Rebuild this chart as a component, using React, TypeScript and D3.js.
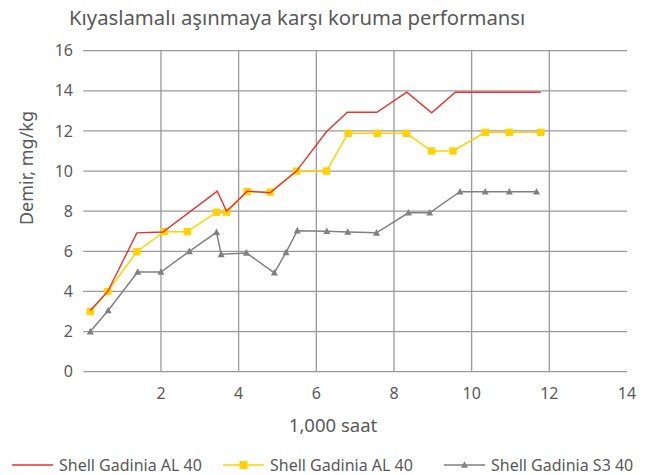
import React from "react";
import * as d3 from "d3";

const W = 654;
const H = 475;

// red series (line only)
const redX = [0.18, 0.63, 1.38, 2.05, 3.45, 3.69, 4.22, 4.81, 5.49, 6.26, 6.8, 7.56, 8.33, 8.97, 9.58, 11.78];
const redY = [3.05, 4.0, 6.92, 6.96, 9.0, 8.0, 9.0, 8.92, 10.0, 11.96, 12.93, 12.93, 13.93, 12.9, 13.93, 13.93];

// yellow series (squares)
const yelX = [0.18, 0.63, 1.38, 2.08, 2.68, 3.43, 3.69, 4.22, 4.81, 5.49, 6.26, 6.82, 7.57, 8.32, 8.97, 9.52, 10.35, 10.97, 11.78];
const yelY = [3.0, 4.0, 5.98, 6.98, 6.98, 7.95, 7.95, 8.98, 8.95, 10.0, 10.0, 11.88, 11.88, 11.88, 11.0, 11.0, 11.93, 11.93, 11.93];

// gray series (triangles)
const grayX = [0.18, 0.64, 1.4, 2.0, 2.73, 3.43, 3.55, 4.2, 4.92, 5.22, 5.51, 6.27, 6.81, 7.55, 8.37, 8.92, 9.7, 10.35, 10.97, 11.67];
const grayY = [2.0, 3.05, 4.97, 4.97, 6.0, 6.95, 5.85, 5.92, 4.93, 5.95, 7.03, 7.0, 6.96, 6.92, 7.92, 7.92, 8.97, 8.97, 8.97, 8.97];

const xTicks = [2, 4, 6, 8, 10, 12, 14];
const yTicks = [0, 2, 4, 6, 8, 10, 12, 14, 16];

const seriesNames = ["Shell Gadinia AL 40", "Shell Gadinia AL 40", "Shell Gadinia S3 40"];
const seriesColors = ["#e8322b", "#ffd200", "#808080"];

const TITLE = "Kıyaslamalı aşınmaya karşı koruma performansı";
const FONT = "'Noto Sans', 'DejaVu Sans', sans-serif";
const TEXT = "#595959";

export default function App() {
  const x = d3.scaleLinear().domain([0, 14]).range([83.3, 627]);
  const y = d3.scaleLinear().domain([0, 16]).range([371.7, 50.7]);
  const line = d3.line<[number, number]>().x((d) => x(d[0])).y((d) => y(d[1]));

  const red = redX.map((v, i) => [v, redY[i]] as [number, number]);
  const yel = yelX.map((v, i) => [v, yelY[i]] as [number, number]);
  const gray = grayX.map((v, i) => [v, grayY[i]] as [number, number]);

  const tri = (cx: number, cy: number, s: number) =>
    `M${cx},${cy - s * 0.55}L${cx + s / 2},${cy + s * 0.4}L${cx - s / 2},${cy + s * 0.4}Z`;

  const legendX = [12, 223, 444];

  return (
    <svg width={W} height={H} style={{ position: "absolute", left: 0, top: 0, background: "#fff" }} fontFamily={FONT}>
      <text x={69} y={25} fontSize={20.3} fill={TEXT}>{TITLE}</text>

      <g>
        {yTicks.map((t) => (
          <g key={"y" + t}>
            <line x1={x(0)} x2={x(14)} y1={y(t)} y2={y(t)} stroke="#9a9a9a" strokeWidth={1.3} />
            <text x={73} y={y(t)} dy="0.35em" textAnchor="end" fontSize={16} fill={TEXT}>{t}</text>
          </g>
        ))}
        {xTicks.map((t) => (
          <g key={"x" + t}>
            {t < 14 && <line x1={x(t)} x2={x(t)} y1={y(0)} y2={y(16)} stroke="#9a9a9a" strokeWidth={1.3} />}
            <text x={x(t)} y={399} textAnchor="middle" fontSize={16} fill={TEXT}>{t}</text>
          </g>
        ))}
      </g>

      <text x={333} y={432} textAnchor="middle" fontSize={18.5} fill={TEXT}>1,000 saat</text>
      <text transform={`translate(33,168) rotate(-90)`} textAnchor="middle" fontSize={18} fill={TEXT}>Demir, mg/kg</text>

      <path d={line(gray) ?? undefined} fill="none" stroke={seriesColors[2]} strokeWidth={1.5} />
      {gray.map((d, i) => (
        <path key={"g" + i} d={tri(x(d[0]), y(d[1]), 7)} fill={seriesColors[2]} />
      ))}

      <path d={line(yel) ?? undefined} fill="none" stroke={seriesColors[1]} strokeWidth={1.5} />
      {yel.map((d, i) => (
        <rect key={"s" + i} x={x(d[0]) - 3.7} y={y(d[1]) - 3.7} width={7.4} height={7.4} fill={seriesColors[1]} />
      ))}

      <path d={line(red) ?? undefined} fill="none" stroke={seriesColors[0]} strokeWidth={1.4} />

      {seriesNames.map((n, i) => (
        <g key={"l" + i}>
          <line x1={legendX[i]} x2={legendX[i] + 41} y1={465} y2={465} stroke={seriesColors[i]} strokeWidth={1.4} />
          {i === 1 && <rect x={legendX[i] + 16.5} y={461} width={8} height={8} fill={seriesColors[1]} />}
          {i === 2 && <path d={tri(legendX[i] + 20.5, 465, 7)} fill={seriesColors[2]} />}
          <text x={legendX[i] + 47} y={471} fontSize={16} fill={TEXT}>{n}</text>
        </g>
      ))}
    </svg>
  );
}
